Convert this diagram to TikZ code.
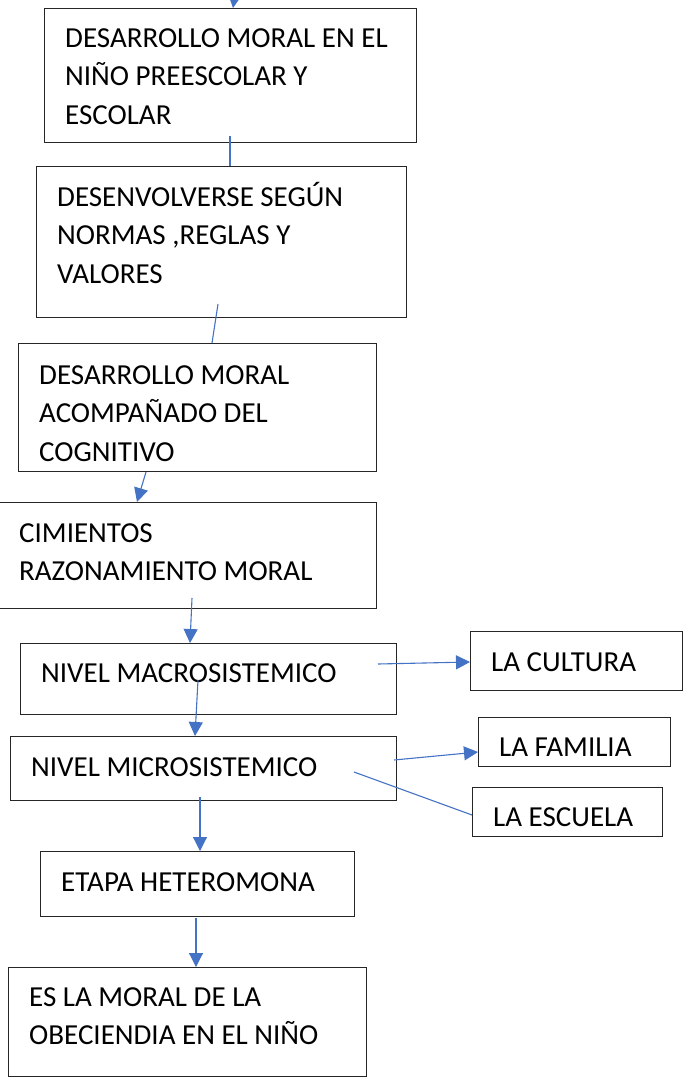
\documentclass[tikz,border=0pt]{standalone}
\usepackage{fontspec}
\setmainfont{Carlito}
\usetikzlibrary{arrows.meta,calc}
\definecolor{conn}{HTML}{4472C4}
\definecolor{edge}{HTML}{262626}
\tikzset{
  box/.style={draw=edge, line width=1.3pt, rectangle, inner sep=0pt, anchor=north west},
  lbl/.style={anchor=base west, inner sep=0pt, align=left, font=\fontsize{29}{38.5}\selectfont},
  link/.style={draw=conn, line width=1.1pt},
  arr/.style={link, -{Triangle[length=14pt,width=14pt]}}
}
\begin{document}
\begin{tikzpicture}[x=1pt,y=-1pt]
\useasboundingbox (0,0) rectangle (686,1079);
% boxes
\node[box, minimum width=372pt, minimum height=134pt] (b1) at (44,8) {};
\node[box, minimum width=370pt, minimum height=151pt] (b2) at (36,166) {};
\node[box, minimum width=358pt, minimum height=128pt] (b3) at (18,343) {};
\node[box, minimum width=381pt, minimum height=106pt] (b4) at (-5,502) {};
\node[box, minimum width=376pt, minimum height=71pt] (b5) at (20,643) {};
\node[box, minimum width=212pt, minimum height=59pt] (bc) at (470,631) {};
\node[box, minimum width=386pt, minimum height=64pt] (b6) at (10,736) {};
\node[box, minimum width=192pt, minimum height=49pt] (bf) at (478,717) {};
\node[box, minimum width=190pt, minimum height=49pt] (be) at (472,787) {};
\node[box, minimum width=314pt, minimum height=65pt] (b7) at (40,851) {};
\node[box, minimum width=358pt, minimum height=109pt] (b8) at (8,967) {};
% texts (anchored at the baseline of the last line)
\node[lbl] (t1) at (65,124) {DESARROLLO MORAL EN EL\\NIÑO PREESCOLAR Y\\ESCOLAR};
\node[lbl] (t2) at (57,283) {DESENVOLVERSE SEGÚN\\NORMAS ,REGLAS Y\\VALORES};
\node[lbl] (t3) at (39,461) {DESARROLLO MORAL\\ACOMPAÑADO DEL\\COGNITIVO};
\node[lbl] (t4) at (19,580.5) {CIMIENTOS\\RAZONAMIENTO MORAL};
\node[lbl] (t5) at (41,682) {NIVEL MACROSISTEMICO};
\node[lbl] (tc) at (491,671) {LA CULTURA};
\node[lbl] (t6) at (31,776) {NIVEL MICROSISTEMICO};
\node[lbl] (tf) at (499,756) {LA FAMILIA};
\node[lbl] (te) at (493,826) {LA ESCUELA};
\node[lbl] (t7) at (61,891) {ETAPA HETEROMONA};
\node[lbl] (t8) at (29,1044.5) {ES LA MORAL DE LA\\OBECIENDIA EN EL NIÑO};
% connector points
\coordinate (s0) at (236,-14);
\coordinate (e0) at (233,8);
\coordinate (s12) at (230,136);
\coordinate (s23) at (218,304);
\coordinate (e23) at (212,343);
\coordinate (s34) at (146,472);
\coordinate (e34) at (137,502);
\coordinate (s45) at (192,598);
\coordinate (e45) at (190,643);
\coordinate (s5c) at (378,664);
\coordinate (e5c) at (470,662);
\coordinate (s56) at (198,680);
\coordinate (e56) at (195,736);
\coordinate (s6f) at (394,760);
\coordinate (e6f) at (478,752);
\coordinate (s6e) at (354,772);
\coordinate (e6e) at (472,815);
\coordinate (s67) at (200,797);
\coordinate (s78) at (196,918);
% connectors
\draw[arr] (s0) -- (e0);
\draw[link] (s12) -- (s12 |- b2.north);
\draw[link] (s23) -- (e23);
\draw[arr] (s34) -- (e34);
\draw[arr] (s45) -- (e45);
\draw[arr] (s5c) -- (e5c);
\draw[arr] (s56) -- (e56);
\draw[arr] (s6f) -- (e6f);
\draw[link] (s6e) -- (e6e);
\draw[arr] (s67) -- (s67 |- b7.north);
\draw[arr] (s78) -- (s78 |- b8.north);
\end{tikzpicture}
\end{document}
